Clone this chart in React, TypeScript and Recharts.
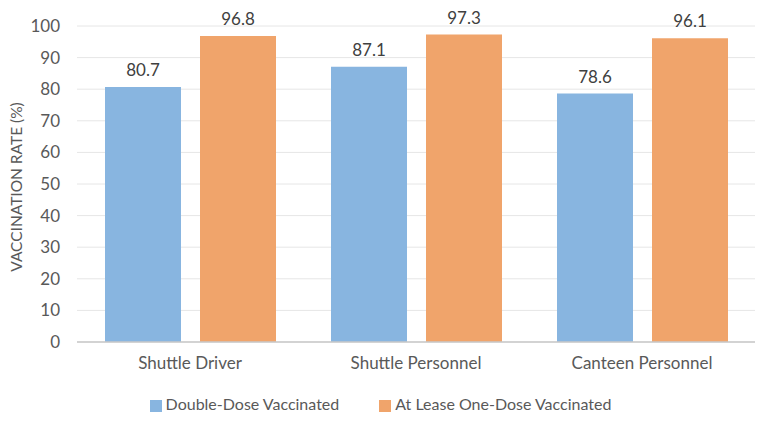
import React from "react";
import {
  BarChart,
  Bar,
  XAxis,
  YAxis,
  CartesianGrid,
  Legend,
  LabelList,
  Label,
} from "recharts";

const categories = ["Shuttle Driver", "Shuttle Personnel", "Canteen Personnel"];
const doubleDose = [80.7, 87.1, 78.6];
const oneDose = [96.8, 97.3, 96.1];
const yTicks = [0, 10, 20, 30, 40, 50, 60, 70, 80, 90, 100];
const seriesOrder = ["doubleDose", "oneDose"];

const data = categories.map((name, i) => ({
  name,
  doubleDose: doubleDose[i],
  oneDose: oneDose[i],
}));

const FONT = "Lato, 'Open Sans', sans-serif";
const textGray = "#595959";

const YTitle = (props: any) => {
  const vb = props.viewBox || {};
  const cy = vb.y + vb.height / 2 + 3;
  return (
    <text
      x={16}
      y={cy}
      transform={`rotate(-90, 16, ${cy})`}
      textAnchor="middle"
      dominantBaseline="central"
      fill={textGray}
      fontSize={15.5}
      fontFamily={FONT}
    >
      VACCINATION RATE (%)
    </text>
  );
};

export default function App() {
  const tickStyle = { fill: textGray, fontSize: 17, fontFamily: FONT };

  return (
    <div style={{ position: "absolute", left: 0, top: 0, background: "#fff" }}>
      <BarChart
        width={764}
        height={421}
        data={data}
        margin={{ top: 26, right: 9, left: 30, bottom: 0 }}
        barCategoryGap={28}
        barGap={19}
      >
        <CartesianGrid vertical={false} stroke="#e6e6e6" />
        <XAxis
          dataKey="name"
          tick={tickStyle}
          tickLine={false}
          tickMargin={9}
          axisLine={{ stroke: "#c8c8c8", strokeWidth: 1.5 }}
          height={55}
        />
        <YAxis
          domain={[0, 100]}
          ticks={yTicks}
          interval={0}
          tick={tickStyle}
          tickLine={false}
          axisLine={false}
          tickMargin={11}
          width={47}
        >
          <Label content={<YTitle />} />
        </YAxis>
        <Legend
          verticalAlign="bottom"
          height={24}
          iconType="square"
          iconSize={12}
          itemSorter={(item: any) => seriesOrder.indexOf(item.dataKey)}
          wrapperStyle={{ fontFamily: FONT, fontSize: 16, color: textGray, bottom: 3, left: 38 }}
          formatter={(value: string) => (
            <span style={{ color: textGray, marginRight: 30 }}>{value}</span>
          )}
        />
        <Bar
          dataKey="doubleDose"
          name="Double-Dose Vaccinated"
          fill="#88b5e0"
          isAnimationActive={false}
        >
          <LabelList
            dataKey="doubleDose"
            position="top"
            offset={11}
            fill="#404040"
            fontSize={17}
            fontFamily={FONT}
          />
        </Bar>
        <Bar
          dataKey="oneDose"
          name="At Lease One-Dose Vaccinated"
          fill="#f0a46b"
          isAnimationActive={false}
        >
          <LabelList
            dataKey="oneDose"
            position="top"
            offset={11}
            fill="#404040"
            fontSize={17}
            fontFamily={FONT}
          />
        </Bar>
      </BarChart>
    </div>
  );
}
